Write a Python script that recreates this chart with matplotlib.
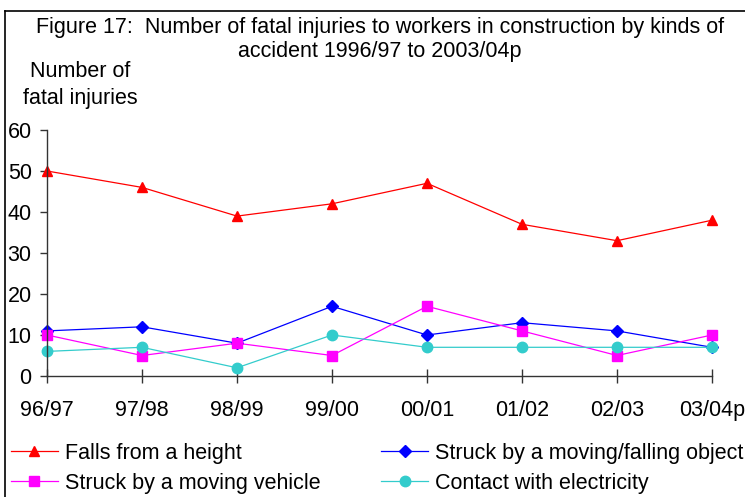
import matplotlib.pyplot as plt
from matplotlib.lines import Line2D

plt.rcParams['font.family'] = ['Liberation Sans', 'DejaVu Sans']

years = ['96/97', '97/98', '98/99', '99/00', '00/01', '01/02', '02/03', '03/04p']
falls = [50, 46, 39, 42, 47, 37, 33, 38]
struck_object = [11, 12, 8, 17, 10, 13, 11, 7]
struck_vehicle = [10, 5, 8, 5, 17, 11, 5, 10]
electricity = [6, 7, 2, 10, 7, 7, 7, 7]

fs = 15.5

fig = plt.figure(figsize=(7.45, 4.97), dpi=100)
ax = fig.add_axes([47 / 745, 1 - 376 / 497, 665 / 745, 246 / 497])

x = range(len(years))
h1, = ax.plot(x, falls, color='#FF0000', lw=0.9, marker='^', ms=7.5, label='Falls from a height', clip_on=False)
h2, = ax.plot(x, struck_object, color='#0000FF', lw=0.9, marker='D', ms=6.5, label='Struck by a moving/falling object', clip_on=False)
h3, = ax.plot(x, struck_vehicle, color='#FF00FF', lw=0.9, marker='s', ms=7.5, label='Struck by a moving vehicle', clip_on=False)
h4, = ax.plot(x, electricity, color='#33CCCC', lw=0.9, marker='o', ms=7.5, label='Contact with electricity', clip_on=False)

ax.set_xlim(0, 7)
ax.set_ylim(0, 60)
ax.set_yticks(range(0, 61, 10))
ax.set_xticks(list(x))
ax.set_xticklabels(years)
for s in ['top', 'right']:
    ax.spines[s].set_visible(False)
for s in ['left', 'bottom']:
    ax.spines[s].set_color('#333333')
    ax.spines[s].set_linewidth(1.0)
ax.tick_params(axis='x', direction='inout', length=10, width=1, color='#333333', labelsize=fs, pad=12)
ax.tick_params(axis='y', direction='out', length=5, width=1, color='#333333', labelsize=fs, pad=6)

fig.text(380 / 745, 1 - 27 / 497, 'Figure 17:  Number of fatal injuries to workers in construction by kinds of',
         ha='center', va='center', fontsize=fs)
fig.text(380 / 745, 1 - 52 / 497, 'accident 1996/97 to 2003/04p', ha='center', va='center', fontsize=fs)
fig.text(80 / 745, 1 - 85 / 497, 'Number of\nfatal injuries', ha='center', va='center', fontsize=fs,
         linespacing=1.35)

# row-wise order like the original legend
fig.legend([h1, h3, h2, h4], [h.get_label() for h in [h1, h3, h2, h4]],
           loc='upper left', bbox_to_anchor=(2 / 745, 1 - 434 / 497), ncol=2, frameon=False,
           fontsize=fs, handlelength=2.2, handletextpad=0.33, columnspacing=2.8, labelspacing=0.42,
           borderaxespad=0)

# frame around the figure
fig.add_artist(Line2D([5 / 745, 1], [1 - 11 / 497, 1 - 11 / 497], color='black', lw=1.2))
fig.add_artist(Line2D([5 / 745, 5 / 745], [0, 1 - 11 / 497], color='black', lw=1.2))

fig.savefig('out.png', dpi=100)
